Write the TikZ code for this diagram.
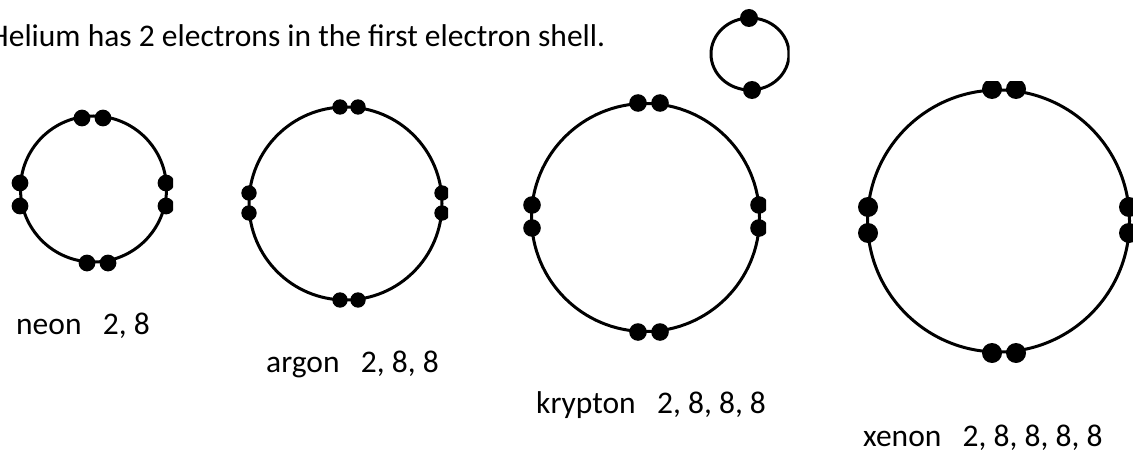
\documentclass[tikz,border=0pt]{standalone}
\usepackage{fontspec}
\setmainfont{Carlito}
\begin{document}
\begin{tikzpicture}[x=1pt,y=-1pt,
  shell/.style={line width=3pt, draw=black},
  lbl/.style={anchor=base west, inner sep=0pt, font=\fontsize{31.5}{38}\selectfont}]
\clip (0,0) rectangle (1133,452);

% title
\node[lbl] (title) at (-11,47) {Helium has 2 electrons in the first electron shell.};

% helium
\begin{scope}
  \clip (690,0) rectangle (789.5,120);
  \draw[shell] (750,54) ellipse[x radius=39pt, y radius=36pt];
  \fill (749,18) circle[radius=9pt];
  \fill (752,90) circle[radius=9pt];
\end{scope}

% neon
\begin{scope}
  \clip (0,100) rectangle (173,280);
  \draw[shell] (93.5,189) circle[radius=73pt];
  \foreach \p in {(82,118),(103,118),(87,263),(108,263),(20,183),(20,206),(166,183),(166,206)}
    \fill \p circle[radius=8.4pt];
\end{scope}
\node[lbl] (neon) at (16,334) {neon\ \ \ 2, 8};

% argon
\begin{scope}
  \clip (230,99.5) rectangle (448,320);
  \draw[shell] (345.5,203.5) circle[radius=96.5pt];
  \foreach \p in {(340,107),(358,107),(340,300),(358,300),(249,193),(249,213),(442,193),(442,213)}
    \fill \p circle[radius=7.7pt];
\end{scope}
\node[lbl] (argon) at (266,372) {argon\ \ \ 2, 8, 8};

% krypton
\begin{scope}
  \clip (510,95) rectangle (766,345);
  \draw[shell] (645.5,217.5) circle[radius=114pt];
  \foreach \p in {(638,103),(660,103),(638,332),(660,332),(532,205),(532,228),(759,205),(759,228)}
    \fill \p circle[radius=8.8pt];
\end{scope}
\node[lbl] (krypton) at (536,413) {krypton\ \ \ 2, 8, 8, 8};

% xenon
\begin{scope}
  \clip (840,82) rectangle (1133,362);
  \draw[shell] (998.5,221) circle[radius=131pt];
  \foreach \p in {(992,89),(1016,89),(992,353),(1016,353),(868,207),(868,233),(1129,207),(1129,233)}
    \fill \p circle[radius=10pt];
\end{scope}
\node[lbl] (xenon) at (863,446) {xenon\ \ \ 2, 8, 8, 8, 8};
\end{tikzpicture}
\end{document}
